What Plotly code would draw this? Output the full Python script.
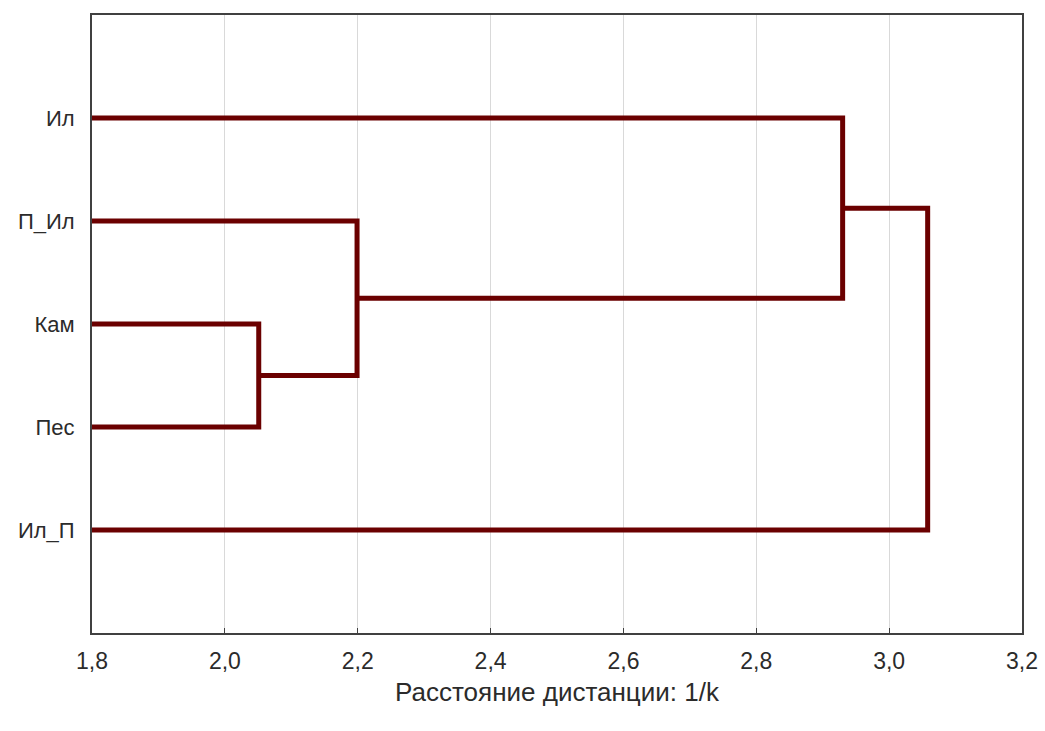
import plotly.graph_objects as go

leaves = ["Ил", "П_Ил", "Кам", "Пес", "Ил_П"]
# merges: (left member, right member, joining distance); new clusters named c1, c2, ...
merge_left = ["Кам", "П_Ил", "Ил", "c3"]
merge_right = ["Пес", "c1", "c2", "Ил_П"]
merge_dist = [2.051, 2.199, 2.930, 3.058]
x_ticks = [1.8, 2.0, 2.2, 2.4, 2.6, 2.8, 3.0, 3.2]
x_min, x_max = 1.8, 3.2

# node positions
node_x = {name: x_min for name in leaves}
node_y = {name: i for i, name in enumerate(leaves)}

xs, ys = [], []
for k, (a, b, d) in enumerate(zip(merge_left, merge_right, merge_dist), start=1):
    xs += [node_x[a], d, d, node_x[b], None]
    ys += [node_y[a], node_y[a], node_y[b], node_y[b], None]
    name = f"c{k}"
    node_x[name] = d
    node_y[name] = (node_y[a] + node_y[b]) / 2

fig = go.Figure()
fig.add_trace(go.Scatter(
    x=xs, y=ys, mode="lines",
    line=dict(color="#6b0000", width=5),
    hoverinfo="skip", showlegend=False,
))

fig.update_layout(
    width=1045, height=731,
    margin=dict(l=92, r=23, t=15, b=98),
    paper_bgcolor="white", plot_bgcolor="white",
    separators=", ",
    font=dict(family="Liberation Sans, Arial, sans-serif", size=22, color="#2b2b2b"),
    showlegend=False,
)
fig.update_xaxes(
    range=[x_min, x_max], tickvals=x_ticks,
    ticktext=[f"{v:.1f}".replace(".", ",") for v in x_ticks],
    tickfont=dict(size=23),
    showgrid=True, gridcolor="#d9d9d9", gridwidth=1,
    showline=True, linecolor="#404040", linewidth=2, mirror=True,
    ticks="inside", ticklen=5, tickcolor="#404040",
    ticklabelstandoff=6,
    zeroline=False, automargin=False,
    title=dict(text="Расстояние дистанции: 1/k", font=dict(size=26), standoff=10),
)
fig.update_yaxes(
    range=[5, -1], tickvals=list(range(len(leaves))), ticktext=leaves,
    tickfont=dict(size=22),
    showgrid=False,
    showline=True, linecolor="#404040", linewidth=2, mirror=True,
    ticks="", ticklabelstandoff=11,
    zeroline=False, automargin=False,
)

fig.write_html("out.html")
